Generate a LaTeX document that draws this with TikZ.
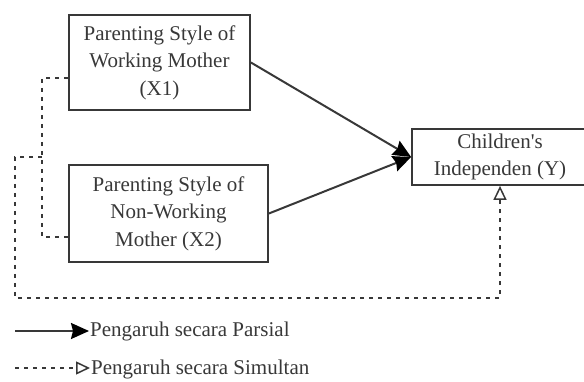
\documentclass[tikz,border=0pt]{standalone}
\usepackage{fontspec}
\setmainfont{Liberation Serif}
\usetikzlibrary{arrows.meta}
\definecolor{ink}{gray}{0.22}
\tikzset{
  box/.style={draw=ink, line width=1.8pt, rectangle, align=center, inner sep=0pt,
    font=\fontsize{21}{27.5}\selectfont, text=ink},
  part/.style={draw=ink, line width=2pt, -{Stealth[length=18pt,width=16pt,inset=2pt,fill=black,color=black]}},
  simul/.style={draw=ink, line width=1.6pt, dash pattern=on 4pt off 5pt},
  simtip/.style={-{Triangle[open,length=14pt,width=13pt,line width=1.5pt]}},
  lbl/.style={font=\fontsize{21}{25}\selectfont, text=ink, anchor=west, inner sep=1pt}
}
\begin{document}
\begin{tikzpicture}[x=1pt,y=-1pt]
\useasboundingbox (0,0) rectangle (584,382);
\node[box, minimum width=181pt, minimum height=95pt] (x1) at (159.5,62.5)
  {Parenting Style of\\Working Mother\\(X1)};
\node[box, minimum width=199pt, minimum height=97pt] (x2) at (168.5,213.5)
  {Parenting Style of\\Non-Working\\Mother (X2)};
\node[box, minimum width=176pt, minimum height=56pt] (y) at (500,157)
  {Children\textquotesingle s\\Independen (Y)};
% partial arrows
\draw[part] (x1.east) -- (y.west);
\draw[part] (x2.east) -- (y.west);
% simultaneous connectors
\coordinate (a1) at ([yshift=-15.5pt]x1.west);
\coordinate (a2) at ([yshift=-23.5pt]x2.west);
\coordinate (c1) at (42,78);
\coordinate (c2) at (42,237);
\coordinate (b1) at (42,157);
\coordinate (b2) at (15,157);
\coordinate (b3) at (15,298);
\coordinate (b4) at (500,298);
\draw[simul] (a1) -- (c1) -- (c2) -- (a2);
\draw[simul, simtip] (b1) -- (b2) -- (b3) -- (b4) -- (y.south);
% legend
\node[lbl] (lp) at (89,331) {Pengaruh secara Parsial};
\node[lbl] (ls) at (90,369) {Pengaruh secara Simultan};
\coordinate (lp0) at (15,331);
\coordinate (ls0) at (15,368);
\draw[part] (lp0) -- (lp.west);
\draw[simul, simtip] (ls0) -- (ls.west |- ls0);
\end{tikzpicture}
\end{document}
